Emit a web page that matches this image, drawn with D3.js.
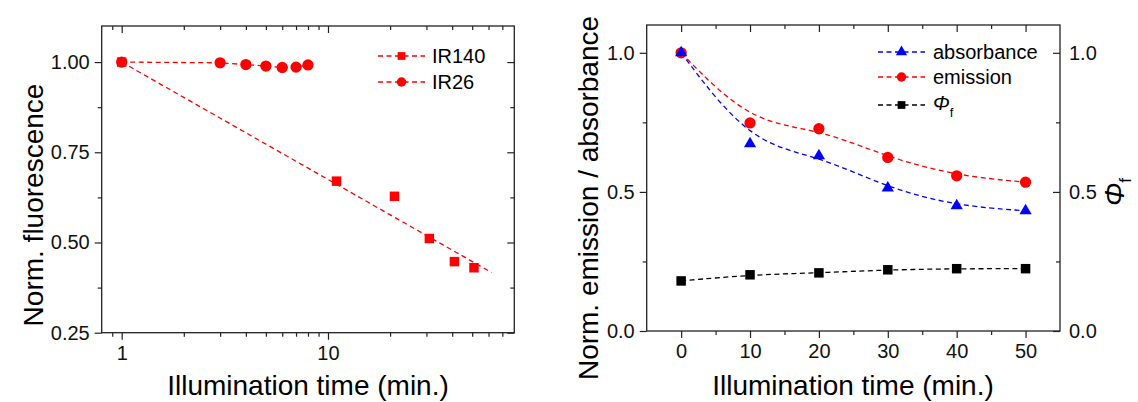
<!DOCTYPE html>
<html>
<head>
<meta charset="utf-8">
<script src="https://cdn.jsdelivr.net/npm/d3@7"></script>
<style>
  body { margin: 0; background: #fff; }
  svg { font-family: "Liberation Sans", Arial, sans-serif; }
</style>
</head>
<body>
<svg id="chart" width="1138" height="402"></svg>
<script>
// left panel: photostability of IR140 vs IR26 (log time axis)
var ir140Time = [1, 11, 21, 31, 41, 51];
var ir140Val = [1.00, 0.670, 0.628, 0.511, 0.447, 0.430];
var ir140FitTime = [1, 62];
var ir140FitVal = [1.00, 0.417];
var ir26Time = [1, 3, 4, 5, 6, 7, 8];
var ir26Val = [1.00, 0.998, 0.993, 0.989, 0.985, 0.986, 0.992];

// right panel
var illumTime = [0, 10, 20, 30, 40, 50];
var absorbance = [1.0, 0.673, 0.630, 0.514, 0.450, 0.432];
var emission = [1.0, 0.748, 0.727, 0.624, 0.558, 0.535];
var phiF = [0.180, 0.202, 0.209, 0.220, 0.224, 0.224];

var leftYTicks = [0.25, 0.50, 0.75, 1.00];
var leftYMinor = [0.375, 0.625, 0.875];
var leftXTicks = [1, 10];
var leftXMinor = [0.9, 2, 3, 4, 5, 6, 7, 8, 9, 20, 30, 40, 50, 60, 70];
var rightXTicks = [0, 10, 20, 30, 40, 50];
var rightXMinor = [5, 15, 25, 35, 45];
var rightYTicks = [0, 0.5, 1.0];
var rightYMinor = [0.25, 0.75];

var svg = d3.select("#chart");
var axisColor = "#222";

function pairs(xs, ys) {
  return xs.map(function(x, i) { return [x, ys[i]]; });
}

// draws ticks on all four sides plus the frame
function frame(g, x, y, opt) {
  var x0 = x.range()[0], x1 = x.range()[1];
  var y0 = y.range()[0], y1 = y.range()[1];

  function put(axis, tx, ty) {
    var a = g.append("g").attr("transform", "translate(" + tx + "," + ty + ")").call(axis);
    a.select(".domain").remove();
    a.selectAll("line").attr("stroke", axisColor).attr("stroke-width", 1.2);
    a.selectAll("text").attr("fill", "#111").style("font-size", "20px").attr("font-family", null);
    return a;
  }

  put(d3.axisBottom(x).tickValues(opt.xTicks).tickFormat(opt.xFmt).tickSize(7).tickSizeOuter(0).tickPadding(6), 0, y0);
  put(d3.axisBottom(x).tickValues(opt.xMinor).tickFormat("").tickSize(4).tickSizeOuter(0), 0, y0);
  put(d3.axisTop(x).tickValues(opt.xTicks).tickFormat("").tickSize(-7).tickSizeOuter(0), 0, y1);
  put(d3.axisTop(x).tickValues(opt.xMinor).tickFormat("").tickSize(-4).tickSizeOuter(0), 0, y1);

  put(d3.axisLeft(y).tickValues(opt.yTicks).tickFormat(d3.format(opt.yFmt)).tickSize(7).tickSizeOuter(0).tickPadding(5), x0, 0);
  put(d3.axisLeft(y).tickValues(opt.yMinor).tickFormat("").tickSize(4).tickSizeOuter(0), x0, 0);
  put(d3.axisRight(y).tickValues(opt.yTicks).tickFormat(opt.rightLabels ? d3.format(opt.yFmt) : "")
      .tickSize(-7).tickSizeOuter(0).tickPadding(9), x1, 0);
  put(d3.axisRight(y).tickValues(opt.yMinor).tickFormat("").tickSize(-4).tickSizeOuter(0), x1, 0);

  g.append("rect")
    .attr("x", x0).attr("y", y1)
    .attr("width", x1 - x0).attr("height", y0 - y1)
    .attr("fill", "none").attr("stroke", axisColor).attr("stroke-width", 1.3);
}

function dashed(g, data, x, y, color, curve) {
  g.append("path")
    .datum(data)
    .attr("fill", "none")
    .attr("stroke", color)
    .attr("stroke-width", 1.3)
    .attr("stroke-dasharray", "5,3.5")
    .attr("d", d3.line()
      .x(function(d) { return x(d[0]); })
      .y(function(d) { return y(d[1]); })
      .curve(curve || d3.curveLinear));
}

function markers(g, data, x, y, type, size, color) {
  g.selectAll(null)
    .data(data)
    .enter()
    .append("path")
    .attr("transform", function(d) { return "translate(" + x(d[0]) + "," + y(d[1]) + ")"; })
    .attr("d", d3.symbol().type(type).size(size))
    .attr("fill", color);
}

function legendRow(g, lx, ly, color, type, size) {
  g.append("line")
    .attr("x1", lx).attr("x2", lx + 47)
    .attr("y1", ly).attr("y2", ly)
    .attr("stroke", color).attr("stroke-width", 1.3)
    .attr("stroke-dasharray", "5,3.5");
  g.append("path")
    .attr("transform", "translate(" + (lx + 23.5) + "," + ly + ")")
    .attr("d", d3.symbol().type(type).size(size))
    .attr("fill", color);
}

// ---------- left panel ----------
var gL = svg.append("g");
var xL = d3.scaleLog().domain([0.8, 80]).range([101.7, 514.3]);
var yL = d3.scaleLinear().domain([0.25, 1.1]).range([332.7, 26]);

frame(gL, xL, yL, {
  xTicks: leftXTicks, xMinor: leftXMinor, xFmt: d3.format("d"),
  yTicks: leftYTicks, yMinor: leftYMinor, yFmt: ".2f", rightLabels: false
});

dashed(gL, pairs(ir140FitTime, ir140FitVal), xL, yL, "#ff0000");
dashed(gL, pairs(ir26Time, ir26Val), xL, yL, "#ff0000");
markers(gL, pairs(ir140Time, ir140Val), xL, yL, d3.symbolSquare, 90, "#ff0000");
markers(gL, pairs(ir26Time, ir26Val), xL, yL, d3.symbolCircle, 100, "#ff0000");

legendRow(gL, 378, 56, "#ff0000", d3.symbolSquare, 60);
legendRow(gL, 378, 82, "#ff0000", d3.symbolCircle, 70);
gL.append("text").attr("x", 432).attr("y", 56).attr("dy", "0.35em").style("font-size", "20px").text("IR140");
gL.append("text").attr("x", 432).attr("y", 82).attr("dy", "0.35em").style("font-size", "20px").text("IR26");

gL.append("text")
  .attr("x", 308).attr("y", 395)
  .attr("text-anchor", "middle")
  .style("font-size", "28px")
  .text("Illumination time (min.)");
gL.append("text")
  .attr("transform", "translate(43,205) rotate(-90)")
  .attr("text-anchor", "middle")
  .style("font-size", "28px")
  .text("Norm. fluorescence");

// ---------- right panel ----------
var gR = svg.append("g");
var xR = d3.scaleLinear().domain([-5, 55]).range([646.7, 1060]);
var yR = d3.scaleLinear().domain([0, 1.1]).range([331, 25]);

frame(gR, xR, yR, {
  xTicks: rightXTicks, xMinor: rightXMinor, xFmt: d3.format("d"),
  yTicks: rightYTicks, yMinor: rightYMinor, yFmt: ".1f", rightLabels: true
});

dashed(gR, pairs(illumTime, phiF), xR, yR, "#000000", d3.curveBasis);
dashed(gR, pairs(illumTime, emission), xR, yR, "#ff0000", d3.curveBasis);
dashed(gR, pairs(illumTime, absorbance), xR, yR, "#0000ff", d3.curveBasis);
markers(gR, pairs(illumTime, phiF), xR, yR, d3.symbolSquare, 90, "#000000");
markers(gR, pairs(illumTime, emission), xR, yR, d3.symbolCircle, 100, "#ff0000");
markers(gR, pairs(illumTime, absorbance), xR, yR, d3.symbolTriangle, 65, "#0000ff");

legendRow(gR, 878, 52, "#0000ff", d3.symbolTriangle, 55);
legendRow(gR, 878, 77, "#ff0000", d3.symbolCircle, 70);
legendRow(gR, 878, 105, "#000000", d3.symbolSquare, 60);
gR.append("text").attr("x", 933).attr("y", 52).attr("dy", "0.35em").style("font-size", "20px").text("absorbance");
gR.append("text").attr("x", 933).attr("y", 77).attr("dy", "0.35em").style("font-size", "20px").text("emission");
var phiLeg = gR.append("text").attr("x", 933).attr("y", 103).attr("dy", "0.35em").style("font-size", "20px");
phiLeg.append("tspan").style("font-style", "italic").text("Φ");
phiLeg.append("tspan").attr("dy", 7).style("font-size", "13px").text("f");

gR.append("text")
  .attr("x", 853).attr("y", 395)
  .attr("text-anchor", "middle")
  .style("font-size", "28px")
  .text("Illumination time (min.)");
gR.append("text")
  .attr("transform", "translate(598,198) rotate(-90)")
  .attr("text-anchor", "middle")
  .style("font-size", "28px")
  .text("Norm. emission / absorbance");
var phiTitle = gR.append("text")
  .attr("transform", "translate(1124,192) rotate(-90)")
  .attr("text-anchor", "middle")
  .style("font-size", "28px");
phiTitle.append("tspan").style("font-style", "italic").text("Φ");
phiTitle.append("tspan").attr("dy", 7).style("font-size", "17px").text("f");
</script>
</body>
</html>
